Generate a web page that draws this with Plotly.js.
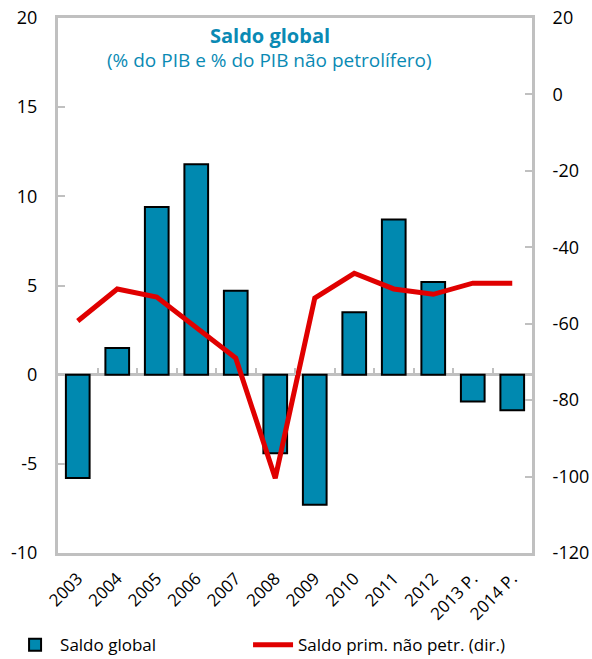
<!DOCTYPE html>
<html>
<head>
<meta charset="utf-8">
<script src="https://cdn.plot.ly/plotly-3.0.1.min.js"></script>
<style>html,body{margin:0;padding:0;background:#fff;}#chart{width:592px;height:659px;}</style>
</head>
<body>
<div id="chart"></div>
<script>
const years = ["2003","2004","2005","2006","2007","2008","2009","2010","2011","2012","2013 P.","2014 P."];
const saldoGlobal = [-5.8, 1.5, 9.4, 11.8, 4.7, -4.4, -7.3, 3.5, 8.7, 5.2, -1.5, -2.0];
const saldoPrimNaoPetr = [-59.3, -50.9, -53.0, -60.9, -69.0, -100.4, -53.3, -46.8, -50.9, -52.3, -49.4, -49.4];
const leftTicks = [-10, -5, 0, 5, 10, 15, 20];
const rightTicks = [-120, -100, -80, -60, -40, -20, 0, 20];

const gray = "#c0c0c0";
const blue = "#0a8ab4";
const font = "'Open Sans', sans-serif";

const traces = [
  {
    type: "bar", name: "Saldo global", x: years, y: saldoGlobal,
    marker: {color: "#0089b0", line: {color: "#000", width: 2}},
    width: 0.6, xaxis: "x", yaxis: "y", hoverinfo: "skip", legend: "legend"
  },
  {
    type: "scatter", mode: "lines", name: "Saldo prim. não petr. (dir.)",
    x: years, y: saldoPrimNaoPetr,
    line: {color: "#e00000", width: 5}, xaxis: "x", yaxis: "y2", hoverinfo: "skip", legend: "legend2"
  },
  {
    type: "scatter", mode: "lines", x: years, y: years.map(() => null),
    xaxis: "x2", yaxis: "y", showlegend: false, hoverinfo: "skip"
  }
];

const legendBase = {
  orientation: "h", xref: "container", yref: "container", xanchor: "left",
  y: 0.021, yanchor: "middle", font: {family: font, size: 17}, itemwidth: 40
};

const layout = {
  width: 592, height: 659,
  margin: {l: 58, r: 60, t: 18, b: 106},
  paper_bgcolor: "#fff", plot_bgcolor: "#fff",
  font: {family: font, size: 17, color: "#000"},
  showlegend: true,
  xaxis: {
    type: "category", range: [-0.5, 11.5], tickangle: -45, automargin: false,
    showline: true, mirror: true, linecolor: gray, linewidth: 3,
    ticks: "", showgrid: false, zeroline: false, ticklabelstandoff: 6,
    tickfont: {family: font, size: 17}, fixedrange: true
  },
  xaxis2: {
    type: "category", range: [-0.5, 11.5], overlaying: "x", anchor: "free", position: 1/3,
    side: "bottom", tickson: "boundaries", ticks: "inside", ticklen: 7, tickwidth: 2, tickcolor: gray,
    showticklabels: false, showline: false, showgrid: false, zeroline: false, automargin: false
  },
  yaxis: {
    range: [-10, 20], tickvals: leftTicks, ticktext: leftTicks.map(String), automargin: false,
    showline: true, linecolor: gray, linewidth: 3,
    ticks: "inside", ticklen: 7, tickwidth: 2, tickcolor: gray,
    showgrid: false, zeroline: true, zerolinecolor: gray, zerolinewidth: 3,
    ticklabelstandoff: 14, tickfont: {family: font, size: 18}
  },
  yaxis2: {
    range: [-120, 20], tickvals: rightTicks, ticktext: rightTicks.map(String), automargin: false,
    overlaying: "y", side: "right", anchor: "x",
    showline: true, linecolor: gray, linewidth: 3,
    ticks: "inside", ticklen: 7, tickwidth: 2, tickcolor: gray,
    showgrid: false, zeroline: false,
    ticklabelstandoff: 14, tickfont: {family: font, size: 18}
  },
  legend: Object.assign({}, legendBase, {x: 0.017}),
  legend2: Object.assign({}, legendBase, {x: 0.419}),
  annotations: [
    {text: "<b>Saldo global</b>", xref: "paper", yref: "paper", x: 0.447, y: 0.968,
     showarrow: false, font: {family: font, size: 20, color: blue}, xanchor: "center", yanchor: "middle"},
    {text: "(% do PIB e % do PIB não petrolífero)", xref: "paper", yref: "paper", x: 0.447, y: 0.921,
     showarrow: false, font: {family: font, size: 19, color: blue}, xanchor: "center", yanchor: "middle"}
  ]
};

Plotly.newPlot("chart", traces, layout, {displayModeBar: false, staticPlot: true});
</script>
</body>
</html>
